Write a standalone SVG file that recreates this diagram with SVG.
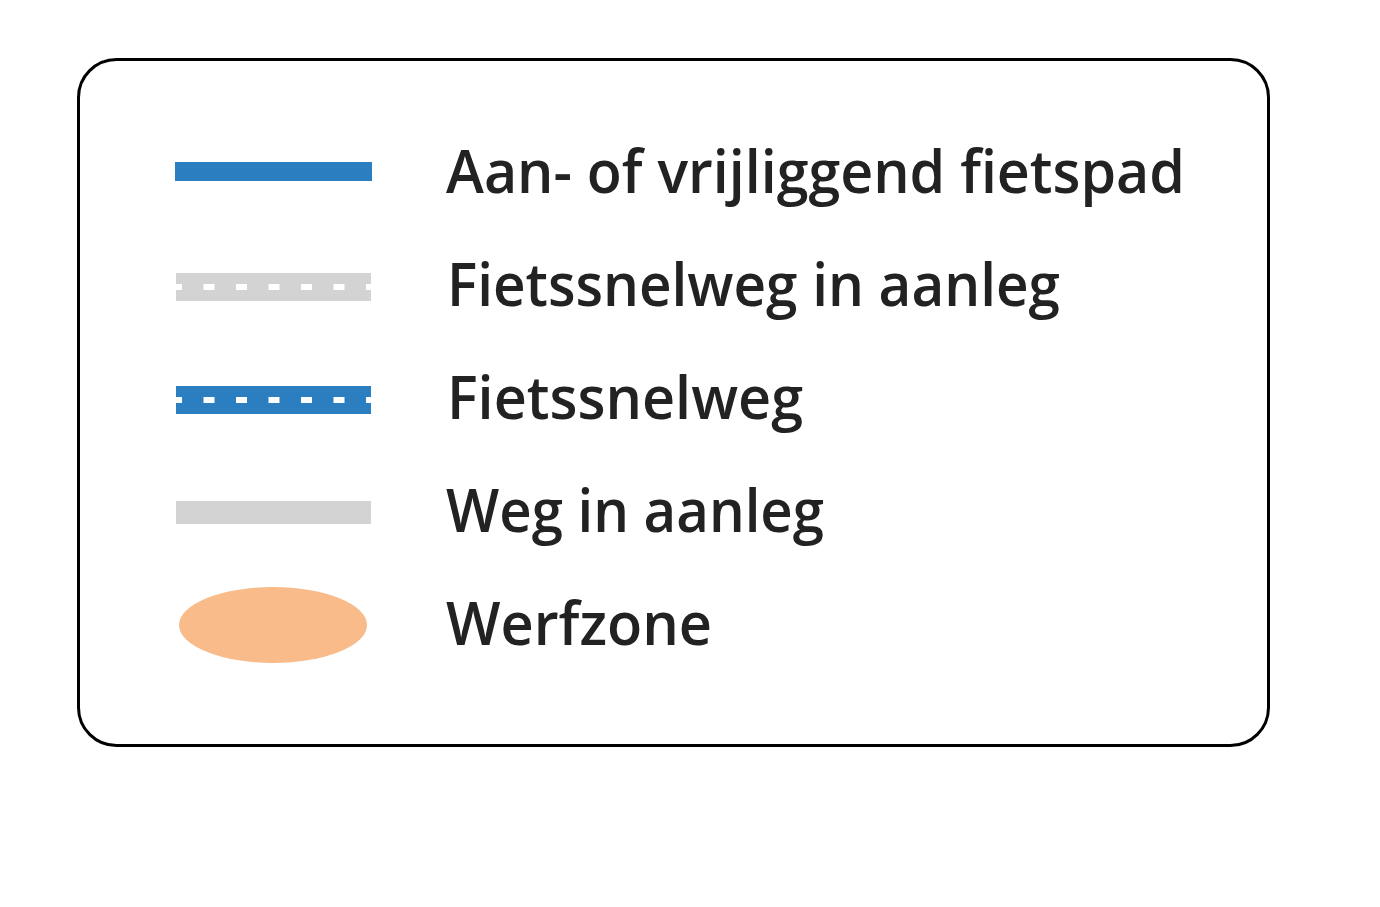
<svg xmlns="http://www.w3.org/2000/svg" width="1380" height="907" viewBox="0 0 1380 907">
<style>
.lbl{font-family:"Open Sans","Noto Sans","DejaVu Sans",sans-serif;font-size:60px;font-weight:600;fill:#222222}
.dash{stroke:#ffffff;stroke-width:6;stroke-dasharray:11 21.5;stroke-dashoffset:5;fill:none}
</style>
<rect width="1380" height="907" fill="#ffffff"/>
<g id="legend-frame">
<rect x="78.5" y="59.5" width="1190" height="686" rx="38" ry="38" fill="#ffffff" stroke="#000000" stroke-width="3"/>
</g>
<g id="fietspad">
<rect x="175" y="162" width="197" height="19" fill="#2b7fc0"/>
<text class="lbl" x="446" y="193" textLength="739" lengthAdjust="spacingAndGlyphs">Aan- of vrijliggend fietspad</text>
</g>
<g id="fietssnelweg-aanleg">
<rect x="176" y="273" width="195" height="28" fill="#d3d3d3"/>
<line class="dash" x1="176" y1="287" x2="371" y2="287"/>
<text class="lbl" x="447" y="306" textLength="613" lengthAdjust="spacingAndGlyphs">Fietssnelweg in aanleg</text>
</g>
<g id="fietssnelweg">
<rect x="176" y="386" width="195" height="28" fill="#2b7fc0"/>
<line class="dash" x1="176" y1="400" x2="371" y2="400"/>
<text class="lbl" x="447" y="419" textLength="356" lengthAdjust="spacingAndGlyphs">Fietssnelweg</text>
</g>
<g id="weg-aanleg">
<rect x="176" y="501" width="195" height="23" fill="#d3d3d3"/>
<text class="lbl" x="446" y="532" textLength="378" lengthAdjust="spacingAndGlyphs">Weg in aanleg</text>
</g>
<g id="werfzone">
<ellipse cx="273" cy="625" rx="94" ry="38" fill="#f8bb89"/>
<text class="lbl" x="446" y="645" textLength="266" lengthAdjust="spacingAndGlyphs">Werfzone</text>
</g>
<g id="connectors"></g>
</svg>
